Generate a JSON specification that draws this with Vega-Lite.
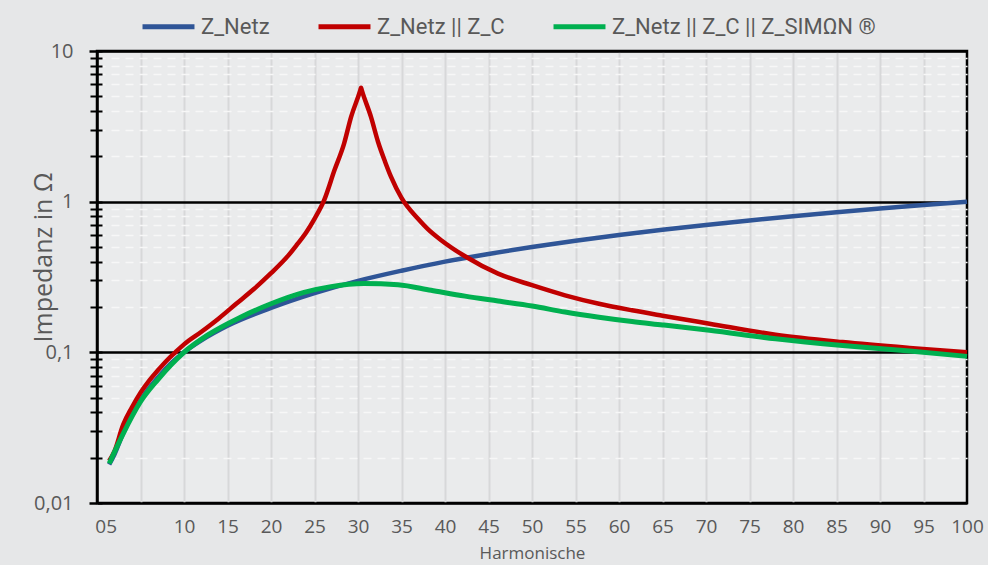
{
  "$schema": "https://vega.github.io/schema/vega-lite/v6.json",
  "width": 870,
  "height": 452,
  "autosize": {"type": "none"},
  "padding": {"left": 97, "top": 51, "right": 21, "bottom": 62},
  "background": "#e6e7e8",
  "config": {
    "view": {"stroke": "#000000", "strokeWidth": 2.5, "fill": "#eaebec"},
    "font": "Open Sans"
  },
  "data": {
    "values": [
      {"h": 1.4, "s": "Z_Netz", "z": 0.018},
      {"h": 2, "s": "Z_Netz", "z": 0.021},
      {"h": 3, "s": "Z_Netz", "z": 0.029},
      {"h": 4, "s": "Z_Netz", "z": 0.038},
      {"h": 5, "s": "Z_Netz", "z": 0.048},
      {"h": 6, "s": "Z_Netz", "z": 0.058},
      {"h": 7, "s": "Z_Netz", "z": 0.068},
      {"h": 8, "s": "Z_Netz", "z": 0.079},
      {"h": 10, "s": "Z_Netz", "z": 0.1},
      {"h": 12, "s": "Z_Netz", "z": 0.12},
      {"h": 15, "s": "Z_Netz", "z": 0.15},
      {"h": 20, "s": "Z_Netz", "z": 0.197},
      {"h": 25, "s": "Z_Netz", "z": 0.247},
      {"h": 30, "s": "Z_Netz", "z": 0.298},
      {"h": 35, "s": "Z_Netz", "z": 0.348},
      {"h": 40, "s": "Z_Netz", "z": 0.4},
      {"h": 45, "s": "Z_Netz", "z": 0.45},
      {"h": 50, "s": "Z_Netz", "z": 0.5},
      {"h": 55, "s": "Z_Netz", "z": 0.55},
      {"h": 60, "s": "Z_Netz", "z": 0.6},
      {"h": 65, "s": "Z_Netz", "z": 0.65},
      {"h": 70, "s": "Z_Netz", "z": 0.7},
      {"h": 75, "s": "Z_Netz", "z": 0.75},
      {"h": 80, "s": "Z_Netz", "z": 0.8},
      {"h": 85, "s": "Z_Netz", "z": 0.85},
      {"h": 90, "s": "Z_Netz", "z": 0.9},
      {"h": 95, "s": "Z_Netz", "z": 0.95},
      {"h": 100, "s": "Z_Netz", "z": 1.0},

      {"h": 1.4, "s": "Z_Netz || Z_C", "z": 0.019},
      {"h": 2, "s": "Z_Netz || Z_C", "z": 0.022},
      {"h": 3, "s": "Z_Netz || Z_C", "z": 0.033},
      {"h": 4, "s": "Z_Netz || Z_C", "z": 0.043},
      {"h": 5, "s": "Z_Netz || Z_C", "z": 0.054},
      {"h": 6, "s": "Z_Netz || Z_C", "z": 0.065},
      {"h": 7, "s": "Z_Netz || Z_C", "z": 0.076},
      {"h": 8, "s": "Z_Netz || Z_C", "z": 0.088},
      {"h": 9, "s": "Z_Netz || Z_C", "z": 0.1},
      {"h": 10, "s": "Z_Netz || Z_C", "z": 0.113},
      {"h": 12, "s": "Z_Netz || Z_C", "z": 0.137},
      {"h": 14, "s": "Z_Netz || Z_C", "z": 0.168},
      {"h": 16, "s": "Z_Netz || Z_C", "z": 0.21},
      {"h": 18, "s": "Z_Netz || Z_C", "z": 0.262},
      {"h": 20, "s": "Z_Netz || Z_C", "z": 0.335},
      {"h": 22, "s": "Z_Netz || Z_C", "z": 0.44},
      {"h": 23, "s": "Z_Netz || Z_C", "z": 0.52},
      {"h": 24, "s": "Z_Netz || Z_C", "z": 0.62},
      {"h": 25, "s": "Z_Netz || Z_C", "z": 0.77},
      {"h": 26.1, "s": "Z_Netz || Z_C", "z": 1.02},
      {"h": 27.3, "s": "Z_Netz || Z_C", "z": 1.62},
      {"h": 28.4, "s": "Z_Netz || Z_C", "z": 2.43},
      {"h": 29.2, "s": "Z_Netz || Z_C", "z": 3.64},
      {"h": 30.25, "s": "Z_Netz || Z_C", "z": 5.45},
      {"h": 30.35, "s": "Z_Netz || Z_C", "z": 5.7},
      {"h": 30.45, "s": "Z_Netz || Z_C", "z": 5.45},
      {"h": 31.5, "s": "Z_Netz || Z_C", "z": 3.64},
      {"h": 32.3, "s": "Z_Netz || Z_C", "z": 2.5},
      {"h": 33.1, "s": "Z_Netz || Z_C", "z": 1.85},
      {"h": 33.8, "s": "Z_Netz || Z_C", "z": 1.46},
      {"h": 35, "s": "Z_Netz || Z_C", "z": 1.06},
      {"h": 36.9, "s": "Z_Netz || Z_C", "z": 0.77},
      {"h": 38, "s": "Z_Netz || Z_C", "z": 0.66},
      {"h": 39.6, "s": "Z_Netz || Z_C", "z": 0.553},
      {"h": 42.3, "s": "Z_Netz || Z_C", "z": 0.434},
      {"h": 46.1, "s": "Z_Netz || Z_C", "z": 0.333},
      {"h": 50, "s": "Z_Netz || Z_C", "z": 0.279},
      {"h": 53.8, "s": "Z_Netz || Z_C", "z": 0.239},
      {"h": 57.7, "s": "Z_Netz || Z_C", "z": 0.21},
      {"h": 61.5, "s": "Z_Netz || Z_C", "z": 0.19},
      {"h": 65, "s": "Z_Netz || Z_C", "z": 0.175},
      {"h": 70.4, "s": "Z_Netz || Z_C", "z": 0.155},
      {"h": 78, "s": "Z_Netz || Z_C", "z": 0.131},
      {"h": 85.7, "s": "Z_Netz || Z_C", "z": 0.117},
      {"h": 93.4, "s": "Z_Netz || Z_C", "z": 0.107},
      {"h": 100, "s": "Z_Netz || Z_C", "z": 0.1},

      {"h": 1.4, "s": "Z_Netz || Z_C || Z_SIMΩN ®", "z": 0.0183},
      {"h": 3, "s": "Z_Netz || Z_C || Z_SIMΩN ®", "z": 0.0288},
      {"h": 5, "s": "Z_Netz || Z_C || Z_SIMΩN ®", "z": 0.047},
      {"h": 7, "s": "Z_Netz || Z_C || Z_SIMΩN ®", "z": 0.066},
      {"h": 10, "s": "Z_Netz || Z_C || Z_SIMΩN ®", "z": 0.1},
      {"h": 12.7, "s": "Z_Netz || Z_C || Z_SIMΩN ®", "z": 0.13},
      {"h": 16.5, "s": "Z_Netz || Z_C || Z_SIMΩN ®", "z": 0.171},
      {"h": 20, "s": "Z_Netz || Z_C || Z_SIMΩN ®", "z": 0.21},
      {"h": 23.8, "s": "Z_Netz || Z_C || Z_SIMΩN ®", "z": 0.25},
      {"h": 26.9, "s": "Z_Netz || Z_C || Z_SIMΩN ®", "z": 0.273},
      {"h": 30.7, "s": "Z_Netz || Z_C || Z_SIMΩN ®", "z": 0.286},
      {"h": 34.6, "s": "Z_Netz || Z_C || Z_SIMΩN ®", "z": 0.281},
      {"h": 38.4, "s": "Z_Netz || Z_C || Z_SIMΩN ®", "z": 0.258},
      {"h": 42.3, "s": "Z_Netz || Z_C || Z_SIMΩN ®", "z": 0.236},
      {"h": 46.1, "s": "Z_Netz || Z_C || Z_SIMΩN ®", "z": 0.219},
      {"h": 50, "s": "Z_Netz || Z_C || Z_SIMΩN ®", "z": 0.203},
      {"h": 53.8, "s": "Z_Netz || Z_C || Z_SIMΩN ®", "z": 0.185},
      {"h": 57.7, "s": "Z_Netz || Z_C || Z_SIMΩN ®", "z": 0.171},
      {"h": 61.5, "s": "Z_Netz || Z_C || Z_SIMΩN ®", "z": 0.16},
      {"h": 65, "s": "Z_Netz || Z_C || Z_SIMΩN ®", "z": 0.152},
      {"h": 70.4, "s": "Z_Netz || Z_C || Z_SIMΩN ®", "z": 0.14},
      {"h": 78, "s": "Z_Netz || Z_C || Z_SIMΩN ®", "z": 0.123},
      {"h": 85.7, "s": "Z_Netz || Z_C || Z_SIMΩN ®", "z": 0.111},
      {"h": 93.4, "s": "Z_Netz || Z_C || Z_SIMΩN ®", "z": 0.102},
      {"h": 100, "s": "Z_Netz || Z_C || Z_SIMΩN ®", "z": 0.094}
    ]
  },
  "encoding": {
    "color": {
      "field": "s",
      "type": "nominal",
      "scale": {
        "domain": ["Z_Netz", "Z_Netz || Z_C", "Z_Netz || Z_C || Z_SIMΩN ®"],
        "range": ["#2f5597", "#c00000", "#00b050"]
      },
      "legend": {
        "title": null,
        "orient": "none",
        "legendX": 43,
        "legendY": -53,
        "direction": "horizontal",
        "symbolType": "stroke",
        "symbolSize": 2700,
        "symbolStrokeWidth": 5,
        "labelFont": "Roboto",
        "labelFontSize": 22,
        "labelColor": "#595959",
        "labelOffset": 4,
        "columnPadding": 38,
        "labelLimit": 400
      }
    }
  },
  "layer": [
    {
      "transform": [{"filter": "datum.s == 'Z_Netz'"}],
      "mark": {"type": "line", "strokeWidth": 4.5, "interpolate": "monotone"},
      "encoding": {
        "x": {
          "field": "h", "type": "quantitative",
          "scale": {"domain": [0, 100], "nice": false, "zero": false},
          "axis": {
            "orient": "bottom",
            "values": [5, 10, 15, 20, 25, 30, 35, 40, 45, 50, 55, 60, 65, 70, 75, 80, 85, 90, 95],
            "grid": true, "gridColor": "#d7d8d9", "gridWidth": 2,
            "labels": false, "ticks": false, "domain": false, "title": null
          }
        },
        "y": {
          "field": "z", "type": "quantitative",
          "scale": {"type": "log", "domain": [0.01, 10], "nice": false},
          "axis": {
            "orient": "left",
            "values": [0.02, 0.03, 0.04, 0.05, 0.06, 0.07, 0.08, 0.09, 0.2, 0.3, 0.4, 0.5, 0.6, 0.7, 0.8, 0.9, 2, 3, 4, 5, 6, 7, 8, 9],
            "grid": true, "gridColor": "#f7f7f7", "gridWidth": 1.5, "gridDash": [8, 6],
            "labels": false, "ticks": true, "tickColor": "#000000", "tickWidth": 2, "tickSize": 7,
            "domain": false, "title": null
          }
        }
      }
    },
    {
      "transform": [{"filter": "datum.s == 'Z_Netz || Z_C'"}],
      "mark": {"type": "line", "strokeWidth": 4.5, "interpolate": "monotone"},
      "encoding": {
        "x": {
          "field": "h", "type": "quantitative",
          "axis": {
            "orient": "bottom",
            "values": [1, 10, 15, 20, 25, 30, 35, 40, 45, 50, 55, 60, 65, 70, 75, 80, 85, 90, 95, 100],
            "labelExpr": "datum.value == 1 ? '05' : datum.label",
            "grid": false, "ticks": false, "domain": false,
            "labelFont": "Open Sans", "labelFontSize": 19, "labelColor": "#595959",
            "labelPadding": 14, "labelFlush": false,
            "title": "Harmonische", "titleFont": "Open Sans", "titleFontSize": 17,
            "titleFontWeight": "normal", "titleColor": "#595959",
            "titleY": 42, "titleBaseline": "top"
          }
        },
        "y": {
          "field": "z", "type": "quantitative",
          "axis": {
            "orient": "left",
            "values": [0.01, 0.1, 1, 10],
            "labelExpr": "datum.value == 0.01 ? '0,01' : datum.value == 0.1 ? '0,1' : datum.value == 1 ? '1' : '10'",
            "grid": true, "gridColor": "#000000", "gridWidth": 2.5,
            "ticks": true, "tickColor": "#000000", "tickWidth": 2.5, "tickSize": 8,
            "domain": true, "domainColor": "#000000", "domainWidth": 2.5,
            "labelFont": "Open Sans", "labelFontSize": 20, "labelColor": "#595959",
            "labelPadding": 16, "labelFlush": false,
            "title": "Impedanz in Ω", "titleFont": "Open Sans", "titleFontSize": 25,
            "titleFontWeight": "normal", "titleColor": "#595959",
            "titleX": -41, "titleY": 206
          }
        }
      }
    },
    {
      "transform": [{"filter": "datum.s == 'Z_Netz || Z_C || Z_SIMΩN ®'"}],
      "mark": {"type": "line", "strokeWidth": 5, "interpolate": "monotone"},
      "encoding": {
        "x": {"field": "h", "type": "quantitative", "axis": null},
        "y": {
          "field": "z", "type": "quantitative",
          "axis": {
            "orient": "left",
            "values": [0.01, 0.02, 0.03, 0.04, 0.05, 0.06, 0.07, 0.08, 0.09, 0.1, 0.2, 0.3, 0.4, 0.5, 0.6, 0.7, 0.8, 0.9, 1, 2, 3, 4, 5, 6, 7, 8, 9, 10],
            "grid": false, "labels": false, "domain": false,
            "ticks": true, "tickColor": "#000000", "tickWidth": 2, "tickSize": -5,
            "title": null
          }
        }
      }
    }
  ],
  "resolve": {"axis": {"x": "independent", "y": "independent"}}
}
